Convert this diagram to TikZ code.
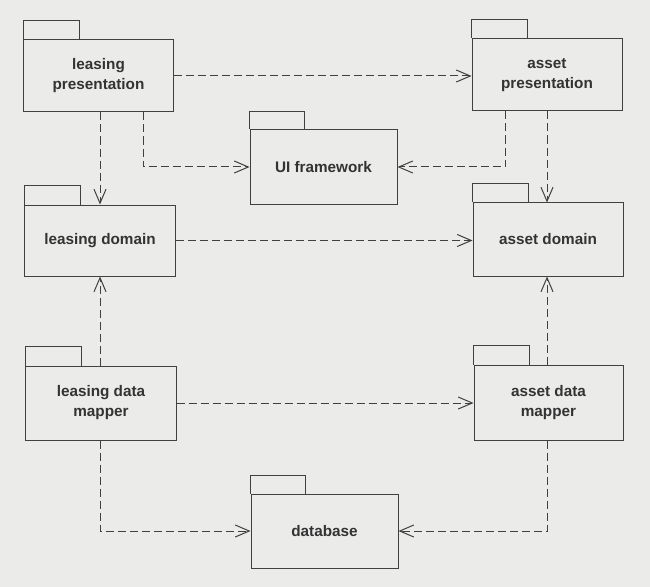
\documentclass[tikz,border=0pt]{standalone}
\usepackage{fontspec}
\setmainfont{Liberation Sans}
\usetikzlibrary{arrows.meta}
\definecolor{paper}{HTML}{EBEBEA}
\definecolor{ink}{HTML}{404040}
\begin{document}
\begin{tikzpicture}[x=1bp,y=-1bp,
  pkg/.style={draw=ink, line width=1bp, rectangle, inner sep=0pt,
    font=\fontsize{15.3bp}{20bp}\selectfont\bfseries, text=ink!80!black, align=center},
  tabbox/.style={draw=ink, line width=1bp},
  dep/.style={draw=ink, line width=1bp, dash pattern=on 8bp off 4bp,
    -{Straight Barb[length=14bp,width=12bp,line width=1bp]}}]
\fill[paper] (0,0) rectangle (650,587);
\useasboundingbox (0,0) rectangle (650,587);
% packages
\node[pkg, minimum width=149bp, minimum height=72bp] (lp) at (98.5,76) {leasing\\presentation};
\node[pkg, minimum width=147bp, minimum height=74bp] (ui) at (323.5,167) {UI framework};
\node[pkg, minimum width=150bp, minimum height=72bp] (ap) at (547,75) {asset\\presentation};
\node[pkg, minimum width=150bp, minimum height=71bp] (ld) at (100,240.5) {leasing domain};
\node[pkg, minimum width=150bp, minimum height=73bp] (ad) at (548,239.5) {asset domain};
\node[pkg, minimum width=150bp, minimum height=74bp] (ldm) at (101,403) {leasing data\\mapper};
\node[pkg, minimum width=149bp, minimum height=75bp] (adm) at (548.5,402.5) {asset data\\mapper};
\node[pkg, minimum width=147bp, minimum height=74bp] (db) at (324.5,531) {database};
% tabs
\foreach \n in {lp,ap,ld,ad,ldm,adm}{
  \draw[tabbox] (\n.north west) -- ++(0,-19) -- ++(56,0) -- ++(0,19);
}
\foreach \n in {ui,db}{
  \draw[tabbox] (\n.north west) -- ++(0,-18) -- ++(55,0) -- ++(0,18);
}
% dependencies
\draw[dep] (lp.east) -- (lp.east -| ap.west);
\draw[dep] ([xshift=-30bp]lp.south east) |- (ui.west);
\draw[dep] ([xshift=1.5bp]lp.south) -- ([xshift=1.5bp]lp.south |- ld.north);
\draw[dep] ([xshift=-42bp]ap.south) |- (ui.east);
\draw[dep] (ap.south) -- (ap.south |- ad.north);
\draw[dep] (ld.east) -- (ld.east -| ad.west);
\draw[dep] ([xshift=-1bp]ldm.north) -- ([xshift=-1bp]ldm.north |- ld.south);
\draw[dep] (ldm.east) -- (ldm.east -| adm.west);
\draw[dep] ([xshift=-1.5bp]adm.north) -- ([xshift=-1.5bp]adm.north |- ad.south);
\draw[dep] ([xshift=-1bp]ldm.south) |- (db.west);
\draw[dep] ([xshift=-1.5bp]adm.south) |- (db.east);
\end{tikzpicture}
\end{document}
